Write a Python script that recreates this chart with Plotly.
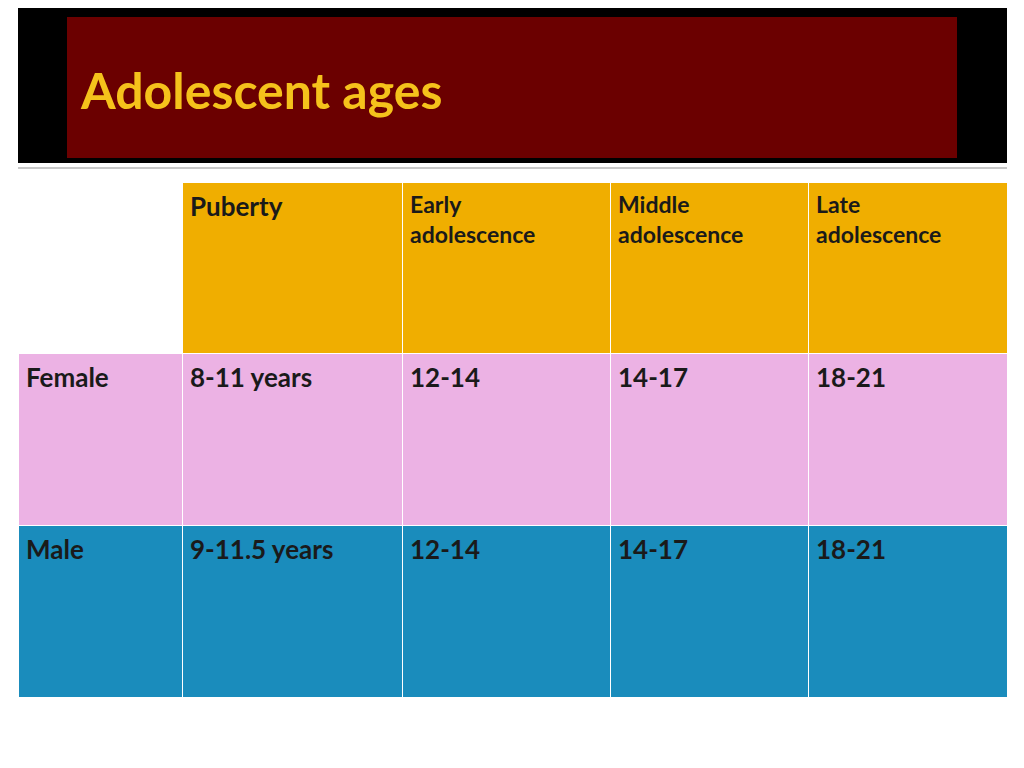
import plotly.graph_objects as go

title = "Adolescent ages"
header = ["", "Puberty", "Early<br>adolescence", "Middle<br>adolescence", "Late<br>adolescence"]
groups = ["Female", "Male"]
puberty = ["8-11 years", "9-11.5 years"]
early = ["12-14", "12-14"]
middle = ["14-17", "14-17"]
late = ["18-21", "18-21"]

W, H = 1024, 768
OFFSET = 8  # the page draws the figure 8 px in from the top left
HEADER_FILL = "#f0ae00"
ROW_FILLS = ["#ecb2e4", "#1a8cbc"]
FONT = "Lato"


def px_x(v):
    return (v - OFFSET) / W


def px_y(v):
    return 1 - (v - OFFSET) / H


def bold(vals):
    return ["<b>%s</b>" % v if v else "" for v in vals]


columns = [groups, puberty, early, middle, late]

fig = go.Figure(
    go.Table(
        domain=dict(x=[px_x(18), px_x(1007)], y=[px_y(697), px_y(182)]),
        columnwidth=[164, 220, 208, 198, 199],
        header=dict(
            values=bold(header),
            fill_color=["white"] + [HEADER_FILL] * 4,
            line=dict(color="white", width=1),
            align="left",
            height=171,
            font=dict(family=FONT, size=[26, 26, 23, 23, 23], color="#1a1a1a"),
        ),
        cells=dict(
            values=[bold(c) for c in columns],
            fill_color=[ROW_FILLS] * 5,
            line=dict(color="white", width=1),
            align="left",
            height=172,
            font=dict(family=FONT, size=26, color="#1a1a1a"),
        ),
    )
)

fig.add_shape(type="rect", xref="paper", yref="paper",
              x0=px_x(18), x1=px_x(1007), y0=px_y(163), y1=1,
              fillcolor="black", line_width=0, layer="below")
fig.add_shape(type="rect", xref="paper", yref="paper",
              x0=px_x(67), x1=px_x(957), y0=px_y(158), y1=px_y(17),
              fillcolor="#6b0000", line_width=0, layer="below")
fig.add_shape(type="line", xref="paper", yref="paper",
              x0=px_x(18), x1=px_x(1007), y0=px_y(168), y1=px_y(168),
              line=dict(color="#c8c8c8", width=2))
fig.add_annotation(text="<b>%s</b>" % title, xref="paper", yref="paper",
                   x=px_x(78), y=px_y(90), xanchor="left", yanchor="middle",
                   showarrow=False,
                   font=dict(family=FONT, size=50, color="#f5c21b"))

fig.update_layout(width=W, height=H, margin=dict(l=0, r=0, t=0, b=0),
                  paper_bgcolor="white", plot_bgcolor="white")
fig.write_html("out.html")
